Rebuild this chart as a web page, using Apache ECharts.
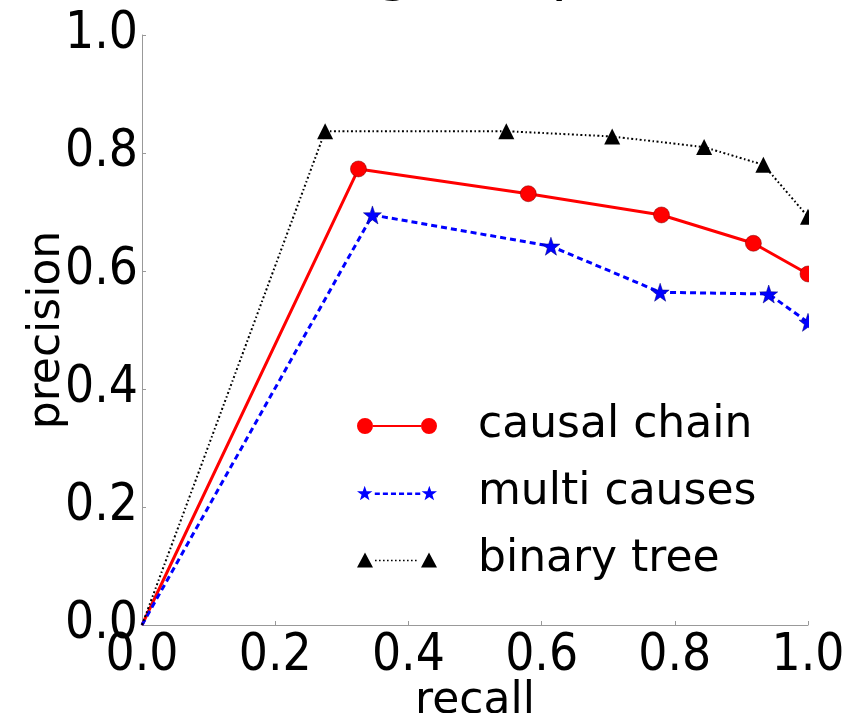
<!DOCTYPE html>
<html lang="en" style="background: #fff;height: 100%">
<head>
    <meta charset="utf-8"/>
    <title>precision / recall</title>
    <script type="text/javascript" src="https://cdn.jsdelivr.net/npm/echarts@6/dist/echarts.min.js"></script>
</head>
<body style="margin: 0;height: 100%">
<div id="chart" style="width: 858px;height: 713px"></div>
<script>
    // series values
    const causalRecall = [0, 0.325, 0.58, 0.78, 0.918, 1.0];
    const causalPrecision = [0, 0.773, 0.731, 0.695, 0.647, 0.595];
    const multiRecall = [0, 0.346, 0.614, 0.778, 0.941, 1.0];
    const multiPrecision = [0, 0.695, 0.642, 0.564, 0.561, 0.513];
    const binaryRecall = [0, 0.275, 0.547, 0.706, 0.844, 0.933, 1.0];
    const binaryPrecision = [0, 0.837, 0.837, 0.828, 0.81, 0.78, 0.692];
    const seriesNames = ['causal chain', 'multi causes', 'binary tree'];
    const tickValues = [0, 0.2, 0.4, 0.6, 0.8, 1.0];

    const FONT = 'DejaVu Sans';
    const TICK_FONT = '"Liberation Sans Narrow", "DejaVu Sans Condensed", sans-serif';

    // pair up x and y, the origin point is only a line vertex
    function points(xs, ys) {
        return xs.map(function (x, i) {
            const p = {value: [x, ys[i]]};
            if (i === 0) p.symbol = 'none';
            return p;
        });
    }

    // legend icons: marker, line sample, marker (80x16 box)
    function star(dx) {
        const pts = [[8, 0], [9.88, 5.41], [15.61, 5.53], [11.04, 8.99], [12.7, 14.47],
            [8, 11.2], [3.3, 14.47], [4.96, 8.99], [0.39, 5.53], [6.12, 5.41]];
        return 'M' + pts.map(p => (p[0] + dx) + ',' + p[1]).join(' L') + ' Z ';
    }
    function circle(dx) {
        return 'M' + dx + ',8 a8,8 0 1,0 16,0 a8,8 0 1,0 -16,0 Z ';
    }
    function tri(dx) {
        return 'M' + (dx + 8) + ',0 L' + (dx + 16) + ',15 L' + dx + ',15 Z ';
    }
    let dashes = '';
    for (let x = 18; x < 62; x += 8) dashes += 'M' + x + ',6.8 H' + (x + 5) + ' V9.2 H' + x + ' Z ';
    let dots = '';
    for (let x = 18; x < 62; x += 4) dots += 'M' + x + ',7.2 H' + (x + 1.6) + ' V8.8 H' + x + ' Z ';
    const icons = [
        'path://' + circle(0) + circle(64) + 'M16,7 H64 V9 H16 Z',
        'path://' + star(0) + star(64) + dashes,
        'path://' + tri(0) + tri(64) + dots
    ];

    const chart = echarts.init(document.getElementById('chart'));

    const axisCommon = {
        type: 'value',
        min: 0,
        max: 1,
        interval: 0.2,
        axisLine: {show: true, lineStyle: {color: '#999', width: 1}},
        axisTick: {show: true, inside: true, length: 4, lineStyle: {color: '#999'}},
        splitLine: {show: false},
        nameLocation: 'middle',
        nameMoveOverlap: false,
        nameTextStyle: {fontFamily: FONT, fontSize: 44, color: '#000'}
    };

    chart.setOption({
        animation: false,
        backgroundColor: '#fff',
        grid: {left: 142, top: 35, right: 50, bottom: 88, containLabel: false, outerBoundsMode: 'none'},
        xAxis: Object.assign({}, axisCommon, {
            name: 'recall',
            nameGap: 55,
            axisLabel: {
                margin: 6, fontFamily: TICK_FONT, fontSize: 51, color: '#000',
                formatter: v => tickValues.includes(v) ? v.toFixed(1) : ''
            }
        }),
        yAxis: Object.assign({}, axisCommon, {
            name: 'precision',
            nameGap: 72,
            axisLabel: {
                margin: 4, fontFamily: TICK_FONT, fontSize: 51, color: '#000',
                formatter: v => tickValues.includes(v) ? v.toFixed(1) : ''
            }
        }),
        legend: {
            orient: 'vertical',
            left: 352,
            top: 396,
            itemWidth: 80,
            itemHeight: 16,
            itemGap: 17,
            itemStyle: {borderWidth: 0},
            data: seriesNames.map((n, i) => ({name: n, icon: icons[i]})),
            textStyle: {fontFamily: FONT, fontSize: 44, color: '#000', lineHeight: 50, padding: [0, 0, 0, 36]}
        },
        graphic: [
            // mask so markers at recall 1.0 are cut at the plot edge
            {type: 'rect', left: 809, top: 0, shape: {width: 49, height: 622}, style: {fill: '#fff'}, z: 10},
            // bottoms of the title glyphs that sit above the picture
            {type: 'text', x: 375, y: -28, style: {text: 'g', font: '60px "DejaVu Sans"', fill: '#000', verticalAlign: 'middle'}},
            {type: 'text', x: 551, y: -28, style: {text: 'p', font: '60px "DejaVu Sans"', fill: '#000', verticalAlign: 'middle'}}
        ],
        series: [
            {
                name: seriesNames[0],
                type: 'line',
                data: points(causalRecall, causalPrecision),
                symbol: 'circle',
                symbolSize: 16,
                color: '#ff0000',
                itemStyle: {color: '#ff0000', borderColor: '#7a0000', borderWidth: 0.5},
                lineStyle: {color: '#ff0000', width: 3}
            },
            {
                name: seriesNames[1],
                type: 'line',
                data: points(multiRecall, multiPrecision),
                symbol: 'path://' + star(0),
                symbolSize: 18,
                color: '#0000ff',
                itemStyle: {color: '#0000ff', borderColor: '#00007a', borderWidth: 0.5},
                lineStyle: {color: '#0000ff', width: 3, type: [6, 4]}
            },
            {
                name: seriesNames[2],
                type: 'line',
                data: points(binaryRecall, binaryPrecision),
                symbol: 'triangle',
                symbolSize: 16,
                color: '#000',
                itemStyle: {color: '#000'},
                lineStyle: {color: '#000', width: 2, type: [2, 2.5, 1.5, 2.5]}
            }
        ]
    });
</script>
</body>
</html>
